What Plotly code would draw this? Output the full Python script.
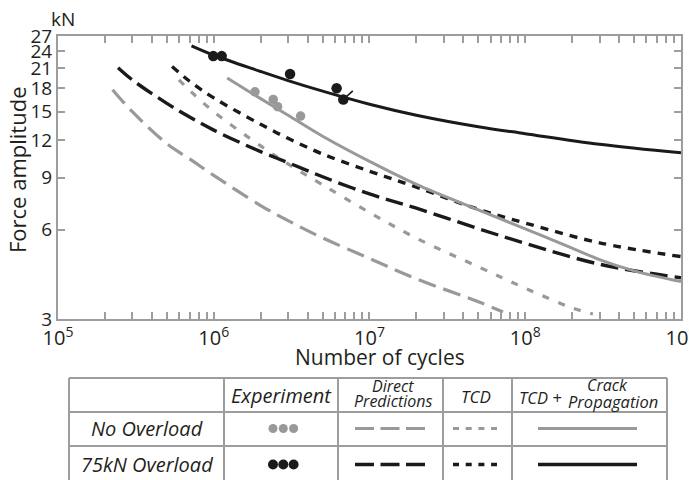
import numpy as np
import plotly.graph_objects as go

# ---------------- data ----------------
no_exp_cycles = [1.84e6, 2.41e6, 2.57e6, 3.61e6]
no_exp_force = [17.5, 16.5, 15.6, 14.5]
ov_exp_cycles = [9.93e5, 1.125e6, 3.09e6, 6.15e6, 6.79e6]
ov_exp_force = [23.1, 23.1, 20.1, 18.0, 16.5]

no_direct_cycles = [2.24e5, 3e5, 5e5, 7e5, 1e6, 2e6, 3e6, 5e6, 1e7, 2e7, 5e7, 7.2e7]
no_direct_force = [17.8, 15.0, 11.7, 10.4, 9.15, 7.24, 6.44, 5.63, 4.80, 4.10, 3.43, 3.17]

no_tcd_cycles = [5.98e5, 7e5, 1e6, 2e6, 3e6, 5e6, 1e7, 2e7, 5e7, 1e8, 2e8, 2.72e8]
no_tcd_force = [19.2, 17.7, 15.0, 11.5, 10.0, 8.50, 6.86, 5.62, 4.50, 3.81, 3.27, 3.12]

no_tcdcp_cycles = [1.22e6, 2e6, 3e6, 5e6, 1e7, 2e7, 5e7, 1e8, 2e8, 3e8, 5e8, 1e9]
no_tcdcp_force = [19.5, 16.6, 14.6, 12.4, 10.2, 8.53, 7.00, 6.04, 5.20, 4.76, 4.36, 4.01]

ov_direct_cycles = [2.43e5, 3e5, 5e5, 7e5, 1e6, 2e6, 3e6, 5e6, 1e7, 2e7, 5e7, 1e8, 3e8, 1e9]
ov_direct_force = [21.1, 19.2, 16.0, 14.4, 13.0, 11.0, 10.1, 9.05, 7.92, 7.09, 6.05, 5.40, 4.59, 4.13]

ov_tcd_cycles = [5.4e5, 7e5, 1e6, 2e6, 3e6, 5e6, 1e7, 2e7, 5e7, 1e8, 3e8, 1e9]
ov_tcd_force = [21.3, 19.0, 16.7, 13.6, 12.2, 10.8, 9.45, 8.35, 7.03, 6.32, 5.42, 4.87]

ov_tcdcp_cycles = [7.2e5, 1e6, 2e6, 3e6, 5e6, 1e7, 2e7, 5e7, 1e8, 3e8, 1e9]
ov_tcdcp_force = [25.0, 23.25, 20.5, 19.1, 17.6, 15.9, 14.6, 13.35, 12.65, 11.65, 10.9]

y_tick_vals = [3, 6, 9, 12, 15, 18, 21, 24, 27]
x_decades = [5, 6, 7, 8, 9]

row_labels = ["No Overload", "75kN Overload"]

# ---------------- styles ----------------
GRAY = "#999999"
BLACK = "#1a1a1a"
AXIS = "#9d9d9d"
TXT = "#231f20"
FONT = "Open Sans"

# tick arrays for log x axis (minor ticks unlabeled)
x_tick_vals, x_tick_text = [], []
for d in x_decades[:-1]:
    for k in range(1, 10):
        x_tick_vals.append(k * 10 ** d)
        x_tick_text.append(f"10<sup>{d}</sup>" if k == 1 else " ")
x_tick_vals.append(10 ** x_decades[-1])
x_tick_text.append(f"10<sup>{x_decades[-1]}</sup>")

fig = go.Figure()

def curve(x, y, color, width, dash):
    fig.add_trace(go.Scatter(x=x, y=y, mode="lines",
                             line=dict(color=color, width=width, dash=dash,
                                       shape="spline", smoothing=1.0),
                             hoverinfo="skip"))

curve(no_direct_cycles, no_direct_force, GRAY, 3.2, "18px,8px")
curve(no_tcd_cycles, no_tcd_force, GRAY, 3.2, "7px,10px")
curve(ov_direct_cycles, ov_direct_force, BLACK, 3.4, "18px,7px")
curve(ov_tcd_cycles, ov_tcd_force, BLACK, 3.4, "8px,7px")
curve(no_tcdcp_cycles, no_tcdcp_force, GRAY, 3.0, "solid")
curve(ov_tcdcp_cycles, ov_tcdcp_force, BLACK, 3.0, "solid")

fig.add_trace(go.Scatter(x=no_exp_cycles, y=no_exp_force, mode="markers",
                         marker=dict(color=GRAY, size=9.5), hoverinfo="skip"))
fig.add_trace(go.Scatter(x=ov_exp_cycles, y=ov_exp_force, mode="markers",
                         marker=dict(color=BLACK, size=10.5), hoverinfo="skip"))

# plot-area geometry in pixels
X0, X1, Y0, Y1 = 58, 681, 36, 319
W, H = X1 - X0, Y1 - Y0
FW, FH = 689, 480

def px(p):
    return (p - X0) / W

def py(p):
    return (Y1 - p) / H

fig.update_layout(
    width=FW, height=FH,
    margin=dict(l=X0, r=FW - X1, t=Y0, b=FH - Y1, pad=0, autoexpand=False),
    plot_bgcolor="white", paper_bgcolor="white",
    showlegend=False,
    font=dict(family=FONT, color=TXT),
)
fig.update_xaxes(type="log", range=[5, 9.0001], tickmode="array",
                 tickvals=x_tick_vals, ticktext=x_tick_text, tickangle=0,
                 ticklabeloverflow="allow", automargin=False,
                 ticks="inside", ticklen=7, tickwidth=1.5, tickcolor=AXIS,
                 showline=True, linecolor=AXIS, linewidth=2, mirror="ticks",
                 layer="above traces",
                 showgrid=False, zeroline=False, tickfont=dict(size=20, color=TXT))
fig.update_yaxes(type="log", range=[np.log10(3), np.log10(27)], tickmode="array",
                 tickvals=y_tick_vals, ticktext=[str(v) for v in y_tick_vals],
                 ticklabeloverflow="allow", automargin=False,
                 ticks="inside", ticklen=7, tickwidth=1.5, tickcolor=AXIS,
                 showline=True, linecolor=AXIS, linewidth=2, mirror="ticks",
                 layer="above traces",
                 showgrid=False, zeroline=False, tickfont=dict(size=19, color=TXT))

ann = []
def text(s, cx, cy, size, italic=False, angle=0):
    f = dict(family=FONT, size=size, color=TXT)
    if italic:
        f["style"] = "italic"
    ann.append(dict(text=s, x=px(cx), y=py(cy), xref="paper", yref="paper",
                    xanchor="center", yanchor="middle", showarrow=False, textangle=angle,
                    font=f))

text("kN", 63, 19, 19)
text("Force amplitude", 17, 170, 22, angle=-90)
text("Number of cycles", 380, 357, 21)

# run-out mark on the last overload specimen
ann.append(dict(x=np.log10(ov_exp_cycles[-1]), y=np.log10(ov_exp_force[-1]),
                xref="x", yref="y", text="", showarrow=True, arrowhead=0,
                arrowwidth=1.6, arrowcolor=BLACK, ax=11, ay=-10, standoff=0))

# ---------------- legend table ----------------
cols = [69, 224, 338, 443, 512, 667]
rows = [378, 412, 446, 481]
shapes = []
LW = 2
for r in rows[:-1]:
    shapes.append(dict(type="line", xref="paper", yref="paper", x0=px(cols[0]), x1=px(cols[-1]),
                       y0=py(r), y1=py(r), line=dict(color=AXIS, width=LW)))
for c in cols:
    shapes.append(dict(type="line", xref="paper", yref="paper", x0=px(c), x1=px(c),
                       y0=py(rows[0]), y1=py(rows[-1]), line=dict(color=AXIS, width=LW)))

text("Experiment", 281, 395, 20, italic=True)
text("Direct", 393, 386, 16, italic=True)
text("Predictions", 393, 401, 16, italic=True)
text("TCD", 476, 396, 17, italic=True)
text("TCD +", 540, 397, 16.5, italic=True)
text("Crack", 607, 385, 16, italic=True)
text("Propagation", 613, 401, 16.5, italic=True)

row_y = [428.5, 464.5]
for i, lab in enumerate(row_labels):
    text(lab, 146.5, row_y[i], 20, italic=True)

def seg(x0, x1, y, color, width, dash):
    shapes.append(dict(type="line", xref="paper", yref="paper", x0=px(x0), x1=px(x1),
                       y0=py(y), y1=py(y), line=dict(color=color, width=width, dash=dash)))

def dot(cx, cy, d, color):
    shapes.append(dict(type="circle", xref="paper", yref="paper",
                       x0=px(cx - d / 2), x1=px(cx + d / 2), y0=py(cy + d / 2), y1=py(cy - d / 2),
                       fillcolor=color, line=dict(width=0)))

for k in range(3):
    dot(273 + 10.3 * k, row_y[0], 9, GRAY)
    dot(273 + 10.3 * k, row_y[1], 10, BLACK)

seg(355, 425, row_y[0], GRAY, 3, "19px,6.5px")
seg(355, 425, row_y[1], BLACK, 3.4, "19px,6.5px")
seg(453, 497, row_y[0], GRAY, 3, "6px,6.7px")
seg(453, 497, row_y[1], BLACK, 3.4, "6px,6.7px")
seg(538, 637, row_y[0], GRAY, 3, "solid")
seg(538, 637, row_y[1], BLACK, 3.4, "solid")

fig.update_layout(annotations=ann, shapes=shapes)

fig.write_html("out.html", config={"displayModeBar": False},
               post_script="document.body.style.margin='0';")
